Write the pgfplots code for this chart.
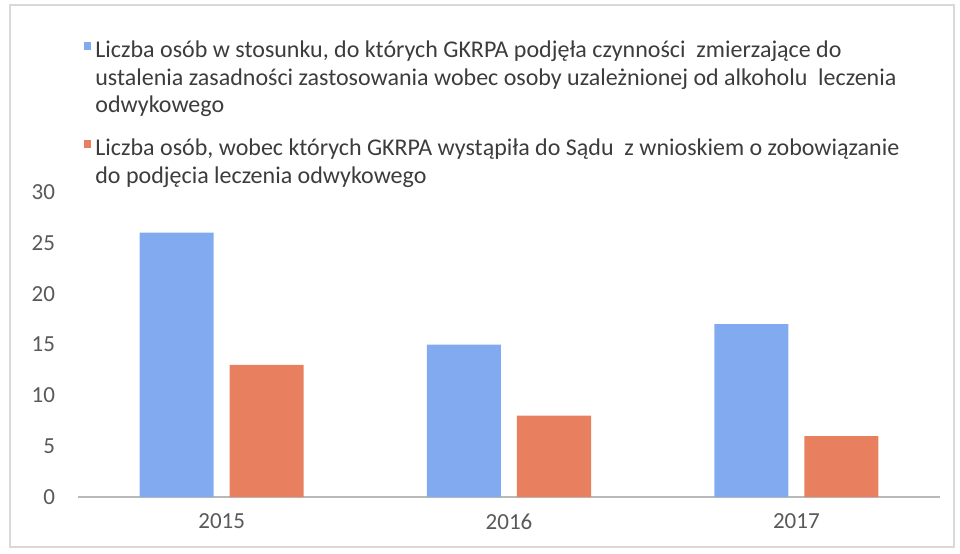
\documentclass[border=0pt]{standalone}
\usepackage{pgfplots}
\pgfplotsset{compat=1.18}
\usepackage{fontspec}
\setmainfont{Carlito}
\definecolor{barblue}{RGB}{130,170,240}
\definecolor{barorange}{RGB}{232,128,96}
\definecolor{txt}{RGB}{60,60,60}
\definecolor{tick}{RGB}{89,89,89}
\newcommand{\legtext}[1]{\parbox[t]{420pt}{\raggedright #1}}
\begin{document}
\begin{tikzpicture}
\useasboundingbox (0,0) rectangle (480pt,276.5pt);
\draw[gray!30, line width=0.8pt] (5pt,3pt) rectangle (477pt,274pt);
\begin{axis}[
  at={(39pt,28pt)}, anchor=south west,
  scale only axis, width=431pt, height=152.5pt,
  ybar=8pt, bar width=37pt,
  xmin=-0.5, xmax=2.5, ymin=0, ymax=30,
  xtick=data, xticklabels={2015,2016,2017},
  ytick={0,5,...,30},
  major tick length=0pt,
  separate axis lines,
  axis x line*=bottom, axis y line*=left,
  x axis line style={draw=gray!55, line width=1pt, -},
  y axis line style={draw=none},
  /pgf/number format/assume math mode=true,
  tick label style={font=\fontsize{11.5}{13}\selectfont, text=tick},
  xticklabel style={yshift=-5pt},
  yticklabel style={xshift=-8pt},
  legend style={at={(0.0,1.0)}, anchor=south west, draw=none, fill=none,
    font=\fontsize{12}{13.75}\selectfont, text=txt,
    row sep=35pt, yshift=12.5pt},
  legend cell align=left,
  legend image code/.code={\fill[#1] (0pt,0.5pt) rectangle (3.5pt,4.5pt);},
]
\addplot[fill=barblue, draw=none] coordinates {(0,26) (1,15) (2,17)};
\addplot[fill=barorange, draw=none] coordinates {(0,13) (1,8) (2,6)};
\addlegendentry{\legtext{Liczba osób w stosunku, do których GKRPA podjęła czynności\ \ zmierzające do\\ustalenia zasadności zastosowania wobec osoby uzależnionej od alkoholu\ \ leczenia\\odwykowego}}
\addlegendentry{\legtext{Liczba osób, wobec których GKRPA wystąpiła do Sądu\ \ z wnioskiem o zobowiązanie\\do podjęcia leczenia odwykowego}}
\end{axis}
\end{tikzpicture}
\end{document}
